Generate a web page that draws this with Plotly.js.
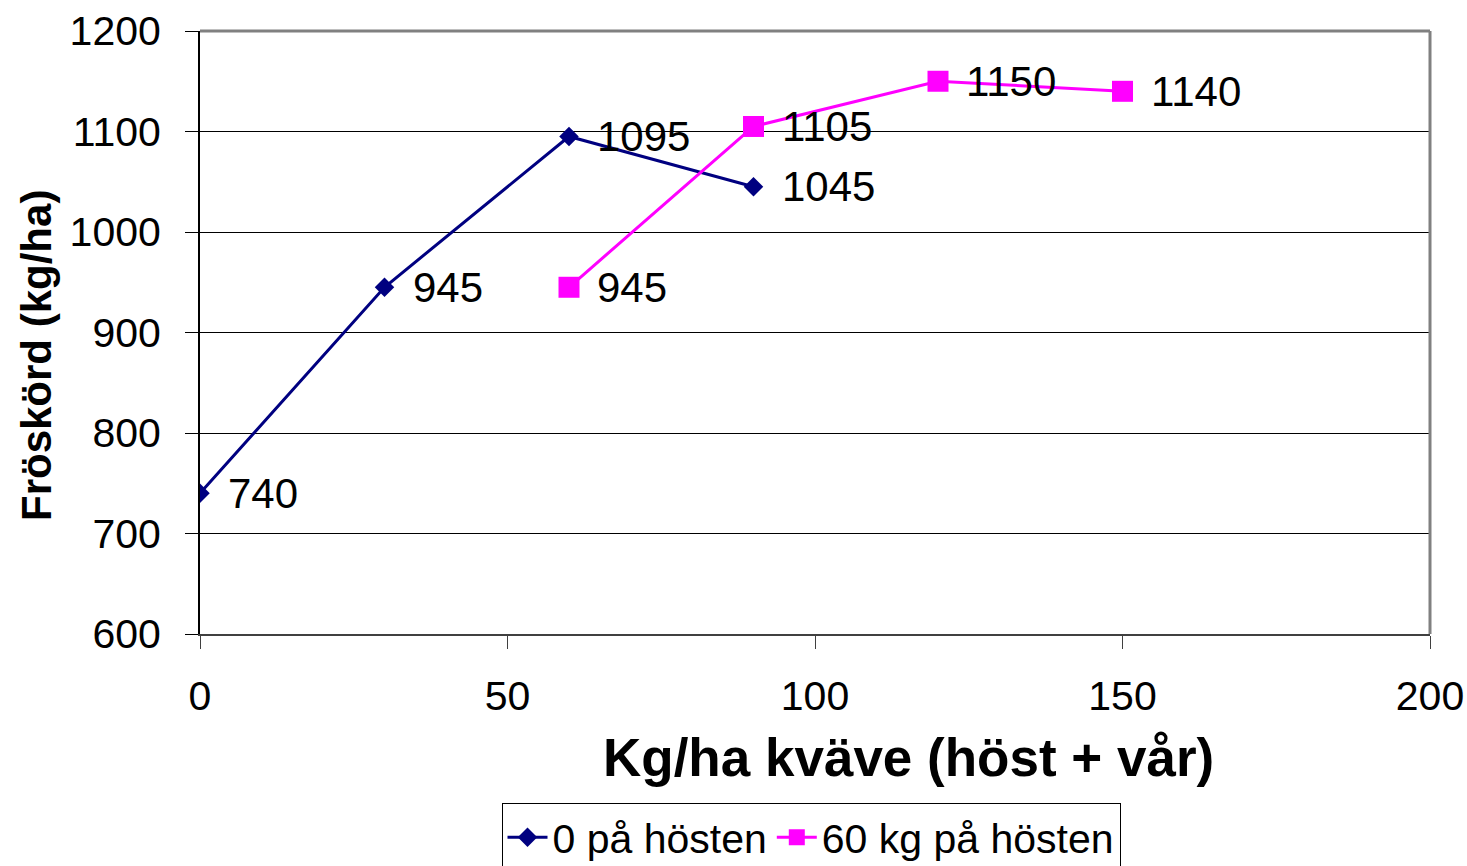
<!DOCTYPE html>
<html><head><meta charset="utf-8">
<script src="https://cdn.plot.ly/plotly-3.0.1.min.js"></script>
<style>html,body{margin:0;padding:0;background:#fff}#c{width:1467px;height:866px}</style>
</head><body><div id="c"></div>
<script>
const xA = [0, 30, 60, 90];
const yA = [740, 945, 1095, 1045];
const xB = [60, 90, 120, 150];
const yB = [945, 1105, 1150, 1140];
const nameA = '0 på hösten';
const nameB = '60 kg på hösten';
const xTitle = 'Kg/ha kväve (höst + vår)';
const yTitle = 'Fröskörd (kg/ha)';
const F = 'Arial, "Liberation Sans", sans-serif';

const traces = [
  {x: xA, y: yA, name: nameA, type: 'scatter', mode: 'lines+markers',
   line: {color: '#000080', width: 3},
   marker: {symbol: 'diamond', size: 15, color: '#000080'}},
  {x: xB, y: yB, name: nameB, type: 'scatter', mode: 'lines+markers',
   line: {color: '#FF00FF', width: 3},
   marker: {symbol: 'square', size: 21, color: '#FF00FF'}}
];

const labelAnn = (xs, ys) => xs.map((x, i) => ({
  x: x, y: ys[i], xref: 'x', yref: 'y', text: String(ys[i]), showarrow: false,
  xanchor: 'left', yanchor: 'middle', xshift: 26,
  font: {family: F, size: 42, color: '#000'}
}));

const layout = {
  width: 1467, height: 866,
  margin: {l: 200, r: 37, t: 31, b: 232},
  paper_bgcolor: '#fff', plot_bgcolor: '#fff',
  font: {family: F, color: '#000'},
  showlegend: true,
  legend: {orientation: 'h', x: (811 - 200) / 1230, xanchor: 'center', xref: 'paper',
    y: 1 - 803/866, yanchor: 'top', yref: 'container',
    bordercolor: '#000', borderwidth: 1, font: {family: F, size: 41}, itemwidth: 40},
  xaxis: {range: [0, 200], dtick: 50, tick0: 0, showgrid: false, zeroline: false, automargin: false,
    showline: true, linecolor: '#404040', linewidth: 2,
    ticks: 'outside', ticklen: 13, tickcolor: '#404040', tickwidth: 1,
    tickfont: {family: F, size: 41}, ticklabelstandoff: 12},
  yaxis: {range: [600, 1200], dtick: 100, tick0: 600, showgrid: true, gridcolor: '#000', gridwidth: 1,
    zeroline: false, showline: true, linecolor: '#000', linewidth: 2, automargin: false,
    ticks: 'outside', ticklen: 13, tickcolor: '#000', tickwidth: 1,
    tickfont: {family: F, size: 41}, ticklabelstandoff: 16},
  annotations: labelAnn(xA, yA).concat(labelAnn(xB, yB)).concat([
    {text: '<b>' + xTitle + '</b>', xref: 'paper', yref: 'paper', x: (908 - 200) / 1230, y: (634 - 757) / 603,
     xanchor: 'center', yanchor: 'middle', showarrow: false, font: {family: F, size: 53, color: '#000'}},
    {text: '<b>' + yTitle + '</b>', xref: 'paper', yref: 'paper', x: (36 - 200) / 1230, y: (634 - 356) / 603,
     xanchor: 'center', yanchor: 'middle', showarrow: false, textangle: -90, font: {family: F, size: 42, color: '#000'}}
  ]),
  shapes: [
    {type: 'line', xref: 'paper', yref: 'paper', x0: 0, x1: 1, y0: 1, y1: 1, line: {color: '#808080', width: 3}},
    {type: 'line', xref: 'paper', yref: 'paper', x0: 1, x1: 1, y0: 0, y1: 1, line: {color: '#808080', width: 3}}
  ]
};
Plotly.newPlot('c', traces, layout, {displayModeBar: false, staticPlot: true});
</script></body></html>
